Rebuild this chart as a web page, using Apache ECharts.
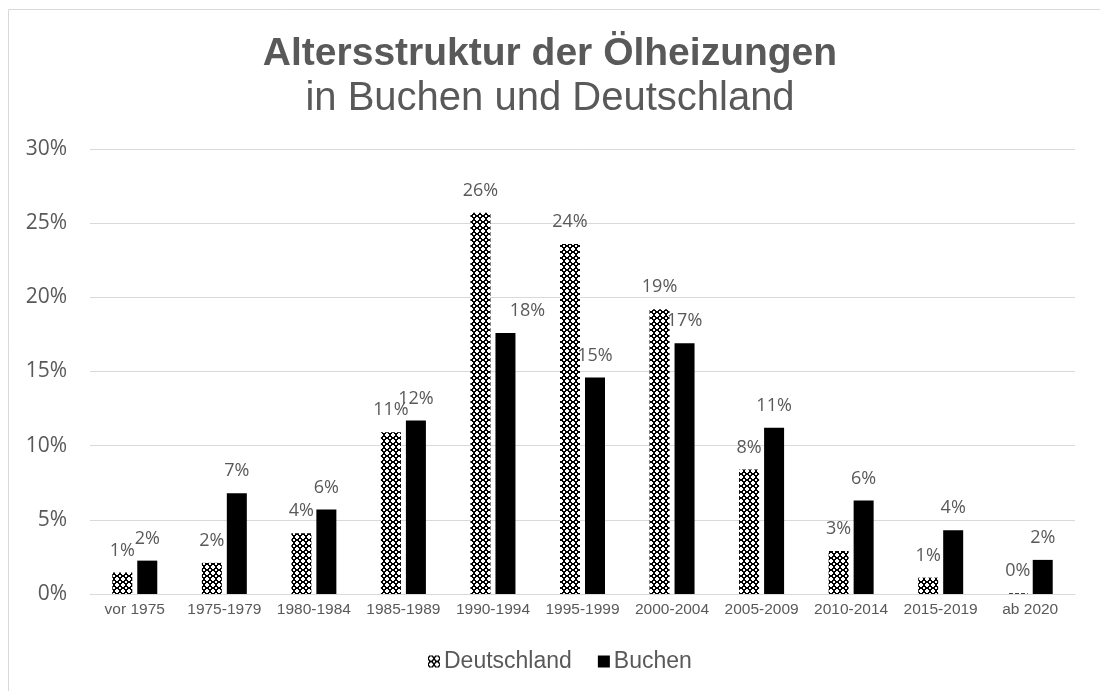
<!DOCTYPE html>
<html>
<head>
<meta charset="utf-8">
<script src="https://cdn.jsdelivr.net/npm/echarts@6/dist/echarts.min.js"></script>
<style>
  html, body { margin: 0; padding: 0; background: #ffffff; }
  #chart { width: 1100px; height: 691px; }
</style>
</head>
<body>
<div id="chart"></div>
<script>
  // Werte in Prozent
  var kategorien = ['vor 1975', '1975-1979', '1980-1984', '1985-1989', '1990-1994', '1995-1999',
    '2000-2004', '2005-2009', '2010-2014', '2015-2019', 'ab 2020'];
  var deutschland = [1.45, 2.1, 4.1, 10.9, 25.7, 23.6, 19.2, 8.4, 2.9, 1.1, 0.05];
  var buchen = [2.25, 6.8, 5.7, 11.7, 17.6, 14.6, 16.9, 11.2, 6.3, 4.3, 2.3];
  var yTicks = [0, 5, 10, 15, 20, 25, 30];

  // Muster für Deutschland (Ringe, wie in Excel)
  function makePattern() {
    var rows = [
      '.####.',
      '##..##',
      '#....#',
      '#....#',
      '##..##',
      '.####.'
    ];
    var c = document.createElement('canvas');
    c.width = 6;
    c.height = 6;
    var ctx = c.getContext('2d');
    ctx.fillStyle = '#ffffff';
    ctx.fillRect(0, 0, 6, 6);
    ctx.fillStyle = '#000000';
    for (var y = 0; y < rows.length; y++) {
      for (var x = 0; x < rows[y].length; x++) {
        if (rows[y][x] === '#') ctx.fillRect(x, y, 1, 1);
      }
    }
    return c;
  }

  var muster = { image: makePattern(), repeat: 'repeat' };
  var grau = '#595959';

  var labelStyle = {
    show: true,
    position: 'top',
    distance: 13,
    color: grau,
    fontSize: 18,
    fontFamily: 'Open Sans',
    formatter: function (p) { return Math.round(p.value) + '%'; }
  };

  var buchenData = buchen.map(function (v, i) {
    if (i === 4) return { value: v, label: { offset: [22, 0] } };
    return v;
  });

  var myChart = echarts.init(document.getElementById('chart'));
  var option = {
    backgroundColor: '#ffffff',
    animation: false,
    graphic: [{
      type: 'rect',
      shape: { x: 8.5, y: 9.5, width: 1200, height: 800 },
      style: { fill: 'none', stroke: '#d9d9d9', lineWidth: 1 },
      silent: true
    }],
    title: [
      {
        text: 'Altersstruktur der Ölheizungen',
        left: 'center',
        top: 30,
        textStyle: { color: grau, fontSize: 39, fontWeight: 'bold', fontFamily: 'Liberation Sans', lineHeight: 39 }
      },
      {
        text: 'in Buchen und Deutschland',
        left: 'center',
        top: 74,
        textStyle: { color: grau, fontSize: 40, fontWeight: 'normal', fontFamily: 'Liberation Sans', lineHeight: 40 }
      }
    ],
    legend: {
      top: 645,
      left: 423,
      itemWidth: 12,
      itemHeight: 12,
      itemGap: 26,
      icon: 'rect',
      textStyle: { color: grau, fontSize: 23, fontFamily: 'Liberation Sans', padding: [0, 0, 0, -1] },
      data: ['Deutschland', 'Buchen']
    },
    grid: {
      left: 90,
      right: 25,
      top: 149,
      bottom: 97
    },
    xAxis: {
      type: 'category',
      data: kategorien,
      axisLine: { lineStyle: { color: '#d9d9d9', width: 1 } },
      axisTick: { show: false },
      axisLabel: { color: grau, fontSize: 15.5, fontFamily: 'Liberation Sans', margin: 8, interval: 0 }
    },
    yAxis: {
      type: 'value',
      min: yTicks[0],
      max: yTicks[yTicks.length - 1],
      interval: 5,
      axisLine: { show: false },
      axisTick: { show: false },
      splitLine: { lineStyle: { color: '#d9d9d9', width: 1 } },
      axisLabel: { color: grau, fontSize: 21, fontFamily: 'Open Sans', margin: 23, formatter: '{value}%' }
    },
    series: [
      {
        name: 'Deutschland',
        type: 'bar',
        barWidth: 20,
        barGap: '25%',
        itemStyle: { color: muster },
        label: labelStyle,
        data: deutschland
      },
      {
        name: 'Buchen',
        type: 'bar',
        barWidth: 20,
        barGap: '25%',
        itemStyle: { color: '#000000' },
        label: labelStyle,
        data: buchenData
      }
    ]
  };
  myChart.setOption(option);
</script>
</body>
</html>
